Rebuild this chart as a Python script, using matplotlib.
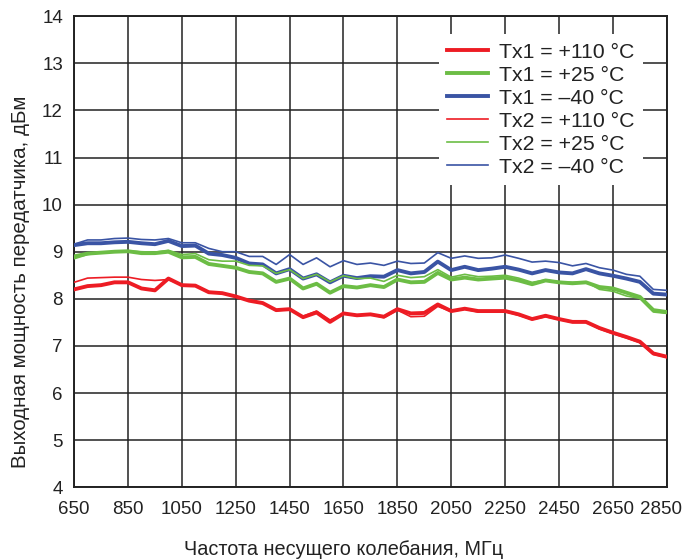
import numpy as np
import matplotlib.pyplot as plt
from matplotlib.transforms import ScaledTranslation

plt.rcParams['font.family'] = ['Liberation Sans', 'DejaVu Sans']

# Carrier frequency, MHz (step 50)
freq = list(range(650, 2851, 50))

# Output power, dBm
tx1_110 = [8.20, 8.27, 8.29, 8.35, 8.35, 8.22, 8.18, 8.43, 8.29, 8.28,
           8.14, 8.12, 8.05, 7.96, 7.91, 7.76, 7.78, 7.61, 7.71, 7.51,
           7.69, 7.65, 7.67, 7.62, 7.78, 7.69, 7.70, 7.88, 7.74, 7.79,
           7.74, 7.74, 7.74, 7.67, 7.57, 7.64, 7.57, 7.51, 7.51, 7.38,
           7.28, 7.19, 7.09, 6.84, 6.77]
tx1_25 = [8.90, 8.96, 8.98, 9.00, 9.01, 8.97, 8.97, 9.00, 8.88, 8.89,
          8.74, 8.70, 8.66, 8.57, 8.54, 8.36, 8.43, 8.22, 8.32, 8.13,
          8.27, 8.24, 8.29, 8.25, 8.41, 8.35, 8.36, 8.55, 8.41, 8.45,
          8.41, 8.43, 8.45, 8.39, 8.31, 8.39, 8.35, 8.33, 8.35, 8.25,
          8.22, 8.13, 8.04, 7.76, 7.72]
tx1_m40 = [9.14, 9.18, 9.18, 9.20, 9.21, 9.18, 9.16, 9.23, 9.12, 9.13,
           8.96, 8.93, 8.87, 8.75, 8.73, 8.54, 8.63, 8.43, 8.52, 8.35,
           8.49, 8.44, 8.48, 8.47, 8.61, 8.54, 8.57, 8.79, 8.61, 8.68,
           8.61, 8.64, 8.68, 8.62, 8.54, 8.61, 8.56, 8.54, 8.63, 8.54,
           8.49, 8.43, 8.36, 8.11, 8.09]
tx2_110 = [8.35, 8.44, 8.45, 8.46, 8.46, 8.41, 8.39, 8.41, 8.29, 8.28,
           8.14, 8.12, 8.05, 7.96, 7.91, 7.75, 7.77, 7.63, 7.74, 7.55,
           7.69, 7.64, 7.67, 7.60, 7.76, 7.62, 7.63, 7.84, 7.73, 7.78,
           7.72, 7.73, 7.73, 7.65, 7.56, 7.62, 7.56, 7.50, 7.50, 7.36,
           7.26, 7.17, 7.07, 6.82, 6.76]
tx2_25 = [8.85, 8.94, 8.98, 9.00, 9.02, 9.00, 8.99, 9.03, 8.94, 8.96,
          8.83, 8.80, 8.80, 8.71, 8.70, 8.54, 8.62, 8.43, 8.52, 8.36,
          8.49, 8.43, 8.44, 8.37, 8.50, 8.45, 8.47, 8.62, 8.46, 8.52,
          8.47, 8.48, 8.50, 8.44, 8.35, 8.40, 8.36, 8.35, 8.36, 8.20,
          8.16, 8.06, 8.01, 7.72, 7.69]
tx2_m40 = [9.16, 9.25, 9.25, 9.28, 9.29, 9.26, 9.25, 9.28, 9.19, 9.19,
           9.07, 9.00, 9.00, 8.90, 8.90, 8.73, 8.94, 8.73, 8.87, 8.68,
           8.81, 8.73, 8.76, 8.71, 8.80, 8.75, 8.76, 8.98, 8.86, 8.91,
           8.86, 8.87, 8.93, 8.86, 8.78, 8.80, 8.77, 8.70, 8.75, 8.66,
           8.61, 8.52, 8.48, 8.20, 8.18]

labels = ['Tx1 = +110 °C', 'Tx1 = +25 °C', 'Tx1 = –40 °C',
          'Tx2 = +110 °C', 'Tx2 = +25 °C', 'Tx2 = –40 °C']

red = '#ed1c24'
green = '#6cbd45'
blue = '#3a54a4'
ink = '#222222'

fig = plt.figure(figsize=(6.86, 5.60), dpi=100)
ax = fig.add_axes([0.108, 0.130, 0.864, 0.841])

# Tx1 thick lines, Tx2 thin lines
ax.plot(freq, tx1_110, color=red, lw=2.8, label=labels[0], zorder=3)
ax.plot(freq, tx1_25, color=green, lw=2.8, label=labels[1], zorder=3)
ax.plot(freq, tx1_m40, color=blue, lw=2.8, label=labels[2], zorder=3)
ax.plot(freq, tx2_110, color=red, lw=1.2, label=labels[3], zorder=4)
ax.plot(freq, tx2_25, color=green, lw=1.2, label=labels[4], zorder=4)
ax.plot(freq, tx2_m40, color=blue, lw=1.2, label=labels[5], zorder=4)

ax.set_xlim(650, 2850)
ax.set_ylim(4, 14)
ax.set_xticks(range(650, 2851, 200))
ax.set_yticks(range(4, 15))
ax.tick_params(length=0, labelsize=13.5, colors=ink)
ax.tick_params(axis='x', pad=10)
ax.tick_params(axis='y', pad=8)
ax.grid(True, color=ink, lw=1.1)
ax.set_axisbelow(True)
for s in ax.spines.values():
    s.set_color(ink)
    s.set_linewidth(1.4)

# last x label nudged left so it stays inside the picture
last = ax.get_xticklabels()[-1]
last.set_transform(last.get_transform() + ScaledTranslation(-4 / 72, 0, fig.dpi_scale_trans))

ax.set_xlabel('Частота несущего колебания, МГц', fontsize=14.3, color=ink)
ax.set_ylabel('Выходная мощность передатчика, дБм', fontsize=14.8, color=ink)
ax.xaxis.set_label_coords(0.455, -0.112)
ax.yaxis.set_label_coords(-0.074, 0.436)

leg = ax.legend(loc='upper right', bbox_to_anchor=(0.9595, 0.962), fontsize=15.3,
                frameon=True, fancybox=False, framealpha=1, edgecolor='none',
                handlelength=1.92, handletextpad=0.5, labelspacing=0.19,
                borderpad=0.4, borderaxespad=0)
for t in leg.get_texts():
    t.set_color(ink)

fig.savefig('out.png', dpi=100)
